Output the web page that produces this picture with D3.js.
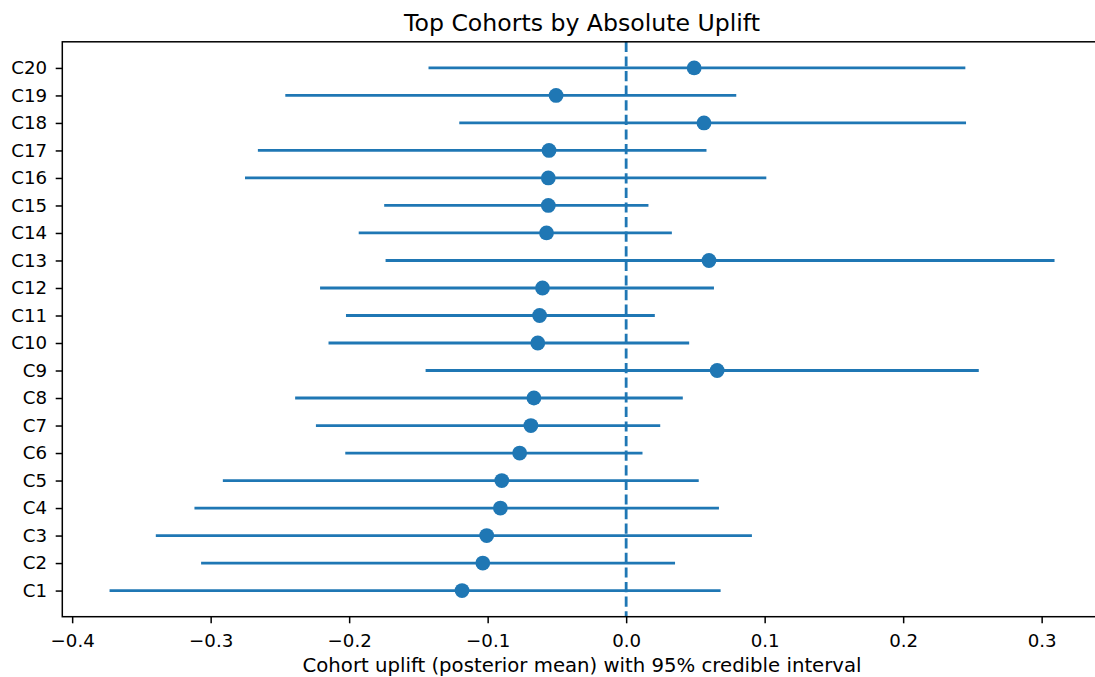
<!DOCTYPE html>
<html>
<head>
<meta charset="utf-8">
<script src="https://cdn.jsdelivr.net/npm/d3@7"></script>
<style>
  html, body { margin: 0; padding: 0; background: #fff; }
  svg { display: block; }
  text { font-family: "DejaVu Sans", sans-serif; fill: #000; }
</style>
</head>
<body>
<svg id="chart" width="1095" height="677"></svg>
<script>
const cohorts = ["C1","C2","C3","C4","C5","C6","C7","C8","C9","C10",
                 "C11","C12","C13","C14","C15","C16","C17","C18","C19","C20"];
const means = [-0.1185, -0.1035, -0.1007, -0.0908, -0.0898, -0.0769, -0.0688, -0.0666, 0.0657, -0.0638,
               -0.0625, -0.0604, 0.0598, -0.0575, -0.0562, -0.0562, -0.0557, 0.0562, -0.0506, 0.0491];
const lowers = [-0.373, -0.3069, -0.3396, -0.3117, -0.2912, -0.2028, -0.2240, -0.2390, -0.1448, -0.2149,
                -0.2023, -0.2210, -0.1737, -0.1931, -0.1747, -0.2752, -0.2659, -0.1205, -0.2461, -0.1427];
const uppers = [0.0682, 0.0353, 0.0908, 0.0670, 0.0524, 0.0118, 0.0246, 0.0409, 0.2546, 0.0455,
                0.0207, 0.0634, 0.3093, 0.0330, 0.0161, 0.1012, 0.0580, 0.2454, 0.0795, 0.2449];
const xTicks = [-0.4, -0.3, -0.2, -0.1, 0.0, 0.1, 0.2, 0.3];

const titleText = "Top Cohorts by Absolute Uplift";
const xLabelText = "Cohort uplift (posterior mean) with 95% credible interval";

(function () {
const color = "#1f77b4";
const svg = d3.select("#chart");

const mLeft = 62.3, mTop = 41.8, mBottom = 616.7;
// x-limits with 5% margins, like matplotlib
const lo = d3.min(lowers), hi = d3.max(uppers);
const pad = (hi - lo) * 0.05;
const pxPerUnit = 1385;
const mRight = mLeft + (hi + pad - (lo - pad)) * pxPerUnit;

const x = d3.scaleLinear().domain([lo - pad, hi + pad]).range([mLeft, mRight]);
const n = cohorts.length;
const y = d3.scaleLinear().domain([-0.95, n - 1 + 0.95]).range([mBottom, mTop]);

const rows = cohorts.map((c, i) => ({c, i, m: means[i], l: lowers[i], u: uppers[i]}));

// error bars
svg.append("g").selectAll("line").data(rows).join("line")
  .attr("x1", d => x(d.l)).attr("x2", d => x(d.u))
  .attr("y1", d => y(d.i)).attr("y2", d => y(d.i))
  .attr("stroke", color).attr("stroke-width", 2.8);

// markers
svg.append("g").selectAll("circle").data(rows).join("circle")
  .attr("cx", d => x(d.m)).attr("cy", d => y(d.i)).attr("r", 7.4)
  .attr("fill", color);

// zero line
svg.append("line")
  .attr("x1", x(0)).attr("x2", x(0)).attr("y1", mTop).attr("y2", mBottom)
  .attr("stroke", color).attr("stroke-width", 2.8)
  .attr("stroke-dasharray", "10.2,4.4");

// axes
const xAxis = d3.axisBottom(x).tickValues(xTicks)
  .tickFormat(d => d3.format(".1f")(d).replace("-", "\u2212"))
  .tickSize(6.6).tickPadding(10.6);
const gx = svg.append("g").attr("transform", `translate(0,${mBottom})`).call(xAxis);
gx.select(".domain").remove();
gx.selectAll(".tick line").attr("stroke", "#000").attr("stroke-width", 1.5);
gx.selectAll(".tick text").attr("font-size", 18.2).attr("font-family", "DejaVu Sans").attr("fill", "#000");

const yAxis = d3.axisLeft(y).tickValues(d3.range(n)).tickFormat(i => cohorts[i])
  .tickSize(6.6).tickPadding(8.6);
const gy = svg.append("g").attr("transform", `translate(${mLeft},0)`).call(yAxis);
gy.select(".domain").remove();
gy.selectAll(".tick line").attr("stroke", "#000").attr("stroke-width", 1.5);
gy.selectAll(".tick text").attr("font-size", 18.2).attr("font-family", "DejaVu Sans").attr("fill", "#000");

// spines
svg.append("rect")
  .attr("x", mLeft).attr("y", mTop).attr("width", mRight - mLeft).attr("height", mBottom - mTop)
  .attr("fill", "none").attr("stroke", "#000").attr("stroke-width", 1.5);

// title & label
svg.append("text").attr("x", (mLeft + mRight) / 2).attr("y", 30.5)
  .attr("text-anchor", "middle").attr("font-size", 23.6).text(titleText);
svg.append("text").attr("x", (mLeft + mRight) / 2).attr("y", 672)
  .attr("text-anchor", "middle").attr("font-size", 19.7).text(xLabelText);
})();
</script>
</body>
</html>
